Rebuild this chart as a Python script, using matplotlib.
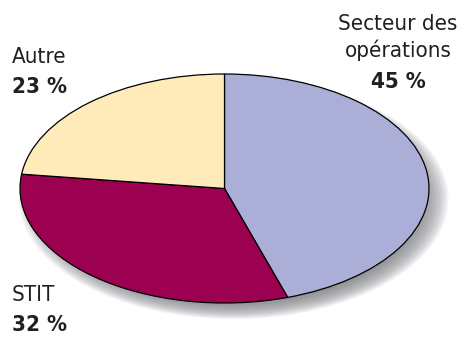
import matplotlib
matplotlib.use('Agg')
import matplotlib.pyplot as plt
from matplotlib.patches import Ellipse

plt.rcParams['font.family'] = ['DejaVu Sans']
plt.rcParams['font.stretch'] = 'condensed'

labels = ['Secteur des\nopérations', 'STIT', 'Autre']
shares = [45, 32, 23]
colors = ['#abafd8', '#9c0050', '#ffebb9']

W, H = 459, 337
fig = plt.figure(figsize=(W / 100, H / 100), dpi=100)

# pie box in pixels: left 20, right 429, top 74, bottom 303
x0, x1, y0, y1 = 20, 429, 74, 303
ax = fig.add_axes([x0 / W, 1 - y1 / H, (x1 - x0) / W, (y1 - y0) / H])

# soft shadow under the pie
for i in range(16):
    s = 1.0 - i * 0.01
    ax.add_patch(Ellipse((0.045, -0.09), 2 * s + 0.1, 2 * s + 0.1,
                         facecolor='#75777b', edgecolor='none', alpha=0.09,
                         zorder=0, clip_on=False))

ax.pie(shares, colors=colors, startangle=90, counterclock=False,
       wedgeprops={'edgecolor': 'black', 'linewidth': 0.9})
ax.set_aspect('auto')
ax.set_xlim(-1.0, 1.0)
ax.set_ylim(-1.0, 1.0)
ax.axis('off')

fs = 16
tc = '#231f20'
fig.text(398 / W, 1 - 24 / H, 'Secteur des', ha='center', va='center', fontsize=fs, color=tc)
fig.text(398 / W, 1 - 50 / H, 'opérations', ha='center', va='center', fontsize=fs, color=tc)
fig.text(398 / W, 1 - 82 / H, f'{shares[0]} %', ha='center', va='center', fontsize=fs,
         fontweight='bold', color=tc)

fig.text(12 / W, 1 - 57 / H, 'Autre', ha='left', va='center', fontsize=fs, color=tc)
fig.text(12 / W, 1 - 87 / H, f'{shares[2]} %', ha='left', va='center', fontsize=fs,
         fontweight='bold', color=tc)

fig.text(12 / W, 1 - 295 / H, 'STIT', ha='left', va='center', fontsize=fs, color=tc)
fig.text(12 / W, 1 - 325 / H, f'{shares[1]} %', ha='left', va='center', fontsize=fs,
         fontweight='bold', color=tc)

fig.savefig('out.png', dpi=100)
